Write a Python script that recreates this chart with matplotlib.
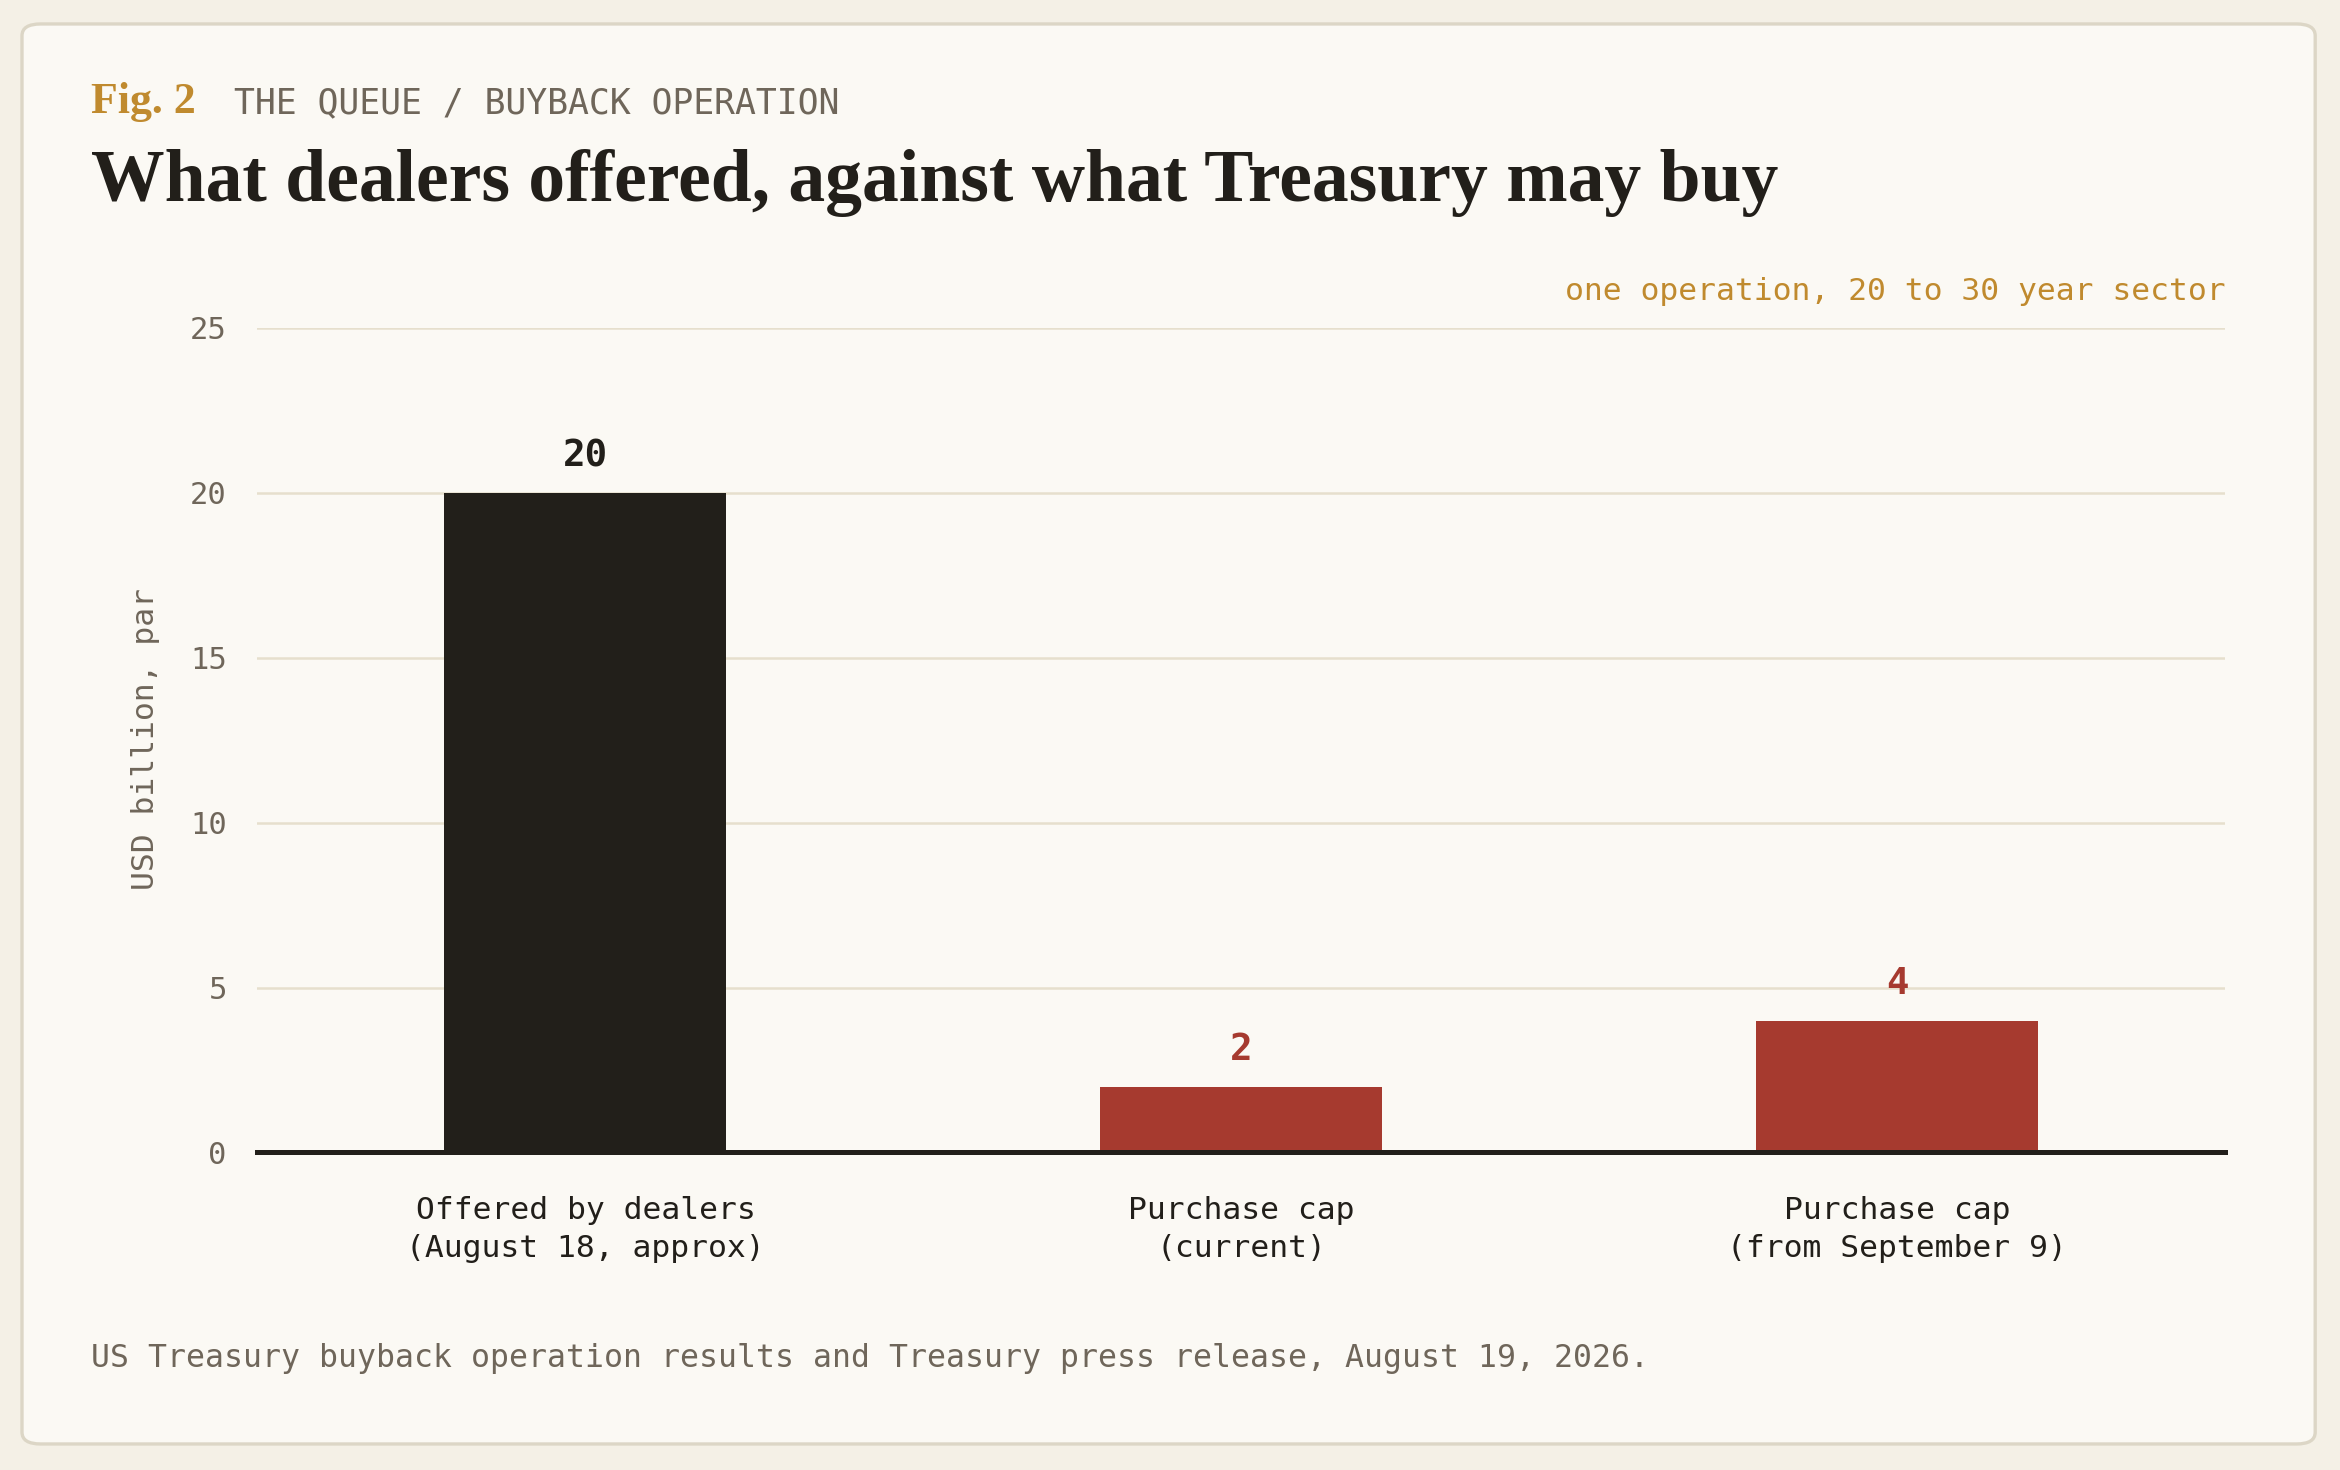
import matplotlib.pyplot as plt
from matplotlib.patches import FancyBboxPatch

# data
categories = ['Offered by dealers\n(August 18, approx)', 'Purchase cap\n(current)', 'Purchase cap\n(from September 9)']
values = [20, 2, 4]
bar_colors = ['#221f1a', '#a63a2f', '#a63a2f']
yticks = [0, 5, 10, 15, 20, 25]

mono = 'DejaVu Sans Mono'
serif = 'Liberation Serif'
ink = '#221f1a'
muted = '#6f665a'
gold = '#c08a2e'

fig = plt.figure(figsize=(11.7, 7.35), dpi=200)
fig.patch.set_facecolor('#f4f0e6')

# card behind everything
card = FancyBboxPatch((0.0094, 0.0177), 0.980, 0.966,
                      boxstyle='round,pad=0,rounding_size=0.008',
                      transform=fig.transFigure, facecolor='#fbf9f4',
                      edgecolor='#dcd6c6', linewidth=1.2, zorder=-10)
fig.patches.append(card)

ax = fig.add_axes([0.110, 0.216, 0.841, 0.561])
ax.set_facecolor('none')

x = list(range(len(categories)))
bars = ax.bar(x, values, width=0.43, color=bar_colors, zorder=3)

for xi, v, c in zip(x, values, bar_colors):
    ax.annotate(str(v), (xi, v), xytext=(0, 6.5), textcoords='offset points',
                ha='center', va='bottom', fontsize=13.5, fontweight='bold',
                color=c, family=mono)

ax.set_xlim(-0.5, 2.5)
ax.set_ylim(0, 25)
ax.set_yticks(yticks)
ax.set_xticks(x)
ax.set_xticklabels(categories, family=mono, fontsize=11.3, color=ink, linespacing=1.42)
ax.set_yticklabels([str(t) for t in yticks], family=mono, fontsize=11, color=muted)
ax.tick_params(axis='both', length=0)
ax.tick_params(axis='y', pad=11)
ax.tick_params(axis='x', pad=15.5)

ax.grid(axis='y', color='#e6dfcd', linewidth=0.9, zorder=0)
for s in ['top', 'right', 'left']:
    ax.spines[s].set_visible(False)
ax.spines['bottom'].set_color(ink)
ax.spines['bottom'].set_linewidth(1.8)
ax.spines['bottom'].set_zorder(4)

# header texts
fig.text(0.0389, 0.923, 'Fig. 2', family=serif, fontweight='bold', fontsize=15.8,
         color=gold, va='baseline', ha='left')
fig.text(0.100, 0.923, 'THE QUEUE / BUYBACK OPERATION', family=mono, fontsize=12.5,
         color=muted, va='baseline', ha='left')
fig.text(0.0389, 0.863, 'What dealers offered, against what Treasury may buy',
         family=serif, fontweight='bold', fontsize=26.5, color=ink,
         va='baseline', ha='left')
fig.text(0.951, 0.796, 'one operation, 20 to 30 year sector', family=mono,
         fontsize=11.3, color=gold, va='baseline', ha='right')
fig.text(0.062, 0.4975, 'USD billion, par', family=mono, fontsize=11.3,
         color=muted, rotation=90, va='center', ha='center')
fig.text(0.0389, 0.070,
         'US Treasury buyback operation results and Treasury press release, August 19, 2026.',
         family=mono, fontsize=11.35, color=muted, va='baseline', ha='left')

fig.savefig('out.png', dpi=200, facecolor=fig.get_facecolor())
